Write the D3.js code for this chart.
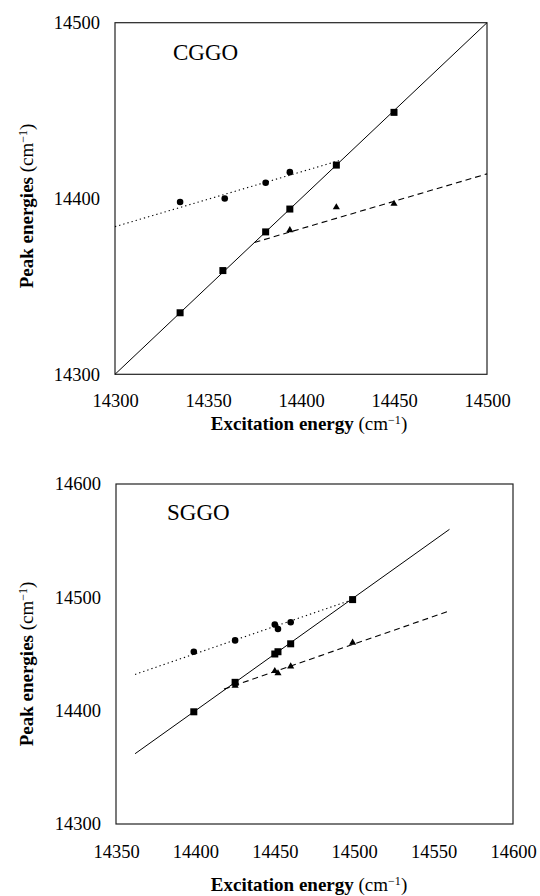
<!DOCTYPE html>
<html>
<head>
<meta charset="utf-8">
<script src="https://cdn.jsdelivr.net/npm/d3@7"></script>
<style>
  body { margin: 0; background: #fff; }
  svg { display: block; }
  text { font-family: "Liberation Serif", "Times New Roman", serif; fill: #000; }
</style>
</head>
<body>
<svg width="540" height="896"></svg>
<script>
// CGGO panel
var cggoSquareX = [14335, 14358, 14381, 14394, 14419, 14450];
var cggoSquareY = [14335, 14359, 14381, 14394, 14419, 14449];
var cggoCircleX = [14335, 14359, 14381, 14394];
var cggoCircleY = [14398, 14400, 14409, 14415];
var cggoTriangleX = [14394, 14419, 14450];
var cggoTriangleY = [14382, 14395, 14397];
var cggoSolid = [[14300, 14300], [14500, 14500]];
var cggoDotted = [[14300, 14384], [14422, 14422]];
var cggoDashed = [[14375, 14375], [14500, 14414]];
var cggoXTicks = [14300, 14350, 14400, 14450, 14500];
var cggoYTicks = [14300, 14400, 14500];

// SGGO panel
var sggoSquareX = [14399, 14425, 14450, 14452, 14460, 14499];
var sggoSquareY = [14399, 14425, 14450, 14452, 14459, 14498];
var sggoCircleX = [14399, 14425, 14450, 14452, 14460];
var sggoCircleY = [14452, 14462, 14476, 14472, 14478];
var sggoTriangleX = [14425, 14450, 14452, 14460, 14499];
var sggoTriangleY = [14422, 14435, 14433, 14439, 14460];
var sggoSolid = [[14362, 14362], [14560, 14560]];
var sggoDotted = [[14362, 14432], [14499, 14498]];
var sggoDashed = [[14418, 14419], [14560, 14488]];
var sggoXTicks = [14350, 14400, 14450, 14500, 14550, 14600];
var sggoYTicks = [14300, 14400, 14500, 14600];

var serif = '"Liberation Serif", "Times New Roman", serif';
var svg = d3.select("svg");

function zip(xs, ys) {
    return xs.map((x, i) => [x, ys[i]]);
}

function drawPanel(p) {
    var x = d3.scaleLinear().domain(p.xDomain).range([p.left, p.right]);
    var y = d3.scaleLinear().domain(p.yDomain).range([p.bottom, p.top]);
    var g = svg.append("g");

    // axes: labels only, no tick marks
    var ax = g.append("g")
        .attr("transform", "translate(0," + p.bottom + ")")
        .call(d3.axisBottom(x).tickValues(p.xTicks).tickSize(0).tickPadding(p.xPad).tickFormat(d3.format("d")));
    var ay = g.append("g")
        .attr("transform", "translate(" + p.left + ",0)")
        .call(d3.axisLeft(y).tickValues(p.yTicks).tickSize(0).tickPadding(15).tickFormat(d3.format("d")));
    [ax, ay].forEach(a => {
        a.attr("font-family", serif).attr("font-size", 18.5);
        a.select(".domain").remove();
        a.selectAll("text").attr("fill", "#000");
    });

    // frame
    g.append("rect")
        .attr("x", p.left).attr("y", p.top)
        .attr("width", p.right - p.left).attr("height", p.bottom - p.top)
        .attr("fill", "none").attr("stroke", "#222").attr("stroke-width", 1.2);

    var line = d3.line().x(d => x(d[0])).y(d => y(d[1]));
    g.append("path").datum(p.solid).attr("d", line)
        .attr("fill", "none").attr("stroke", "#000").attr("stroke-width", 1);
    g.append("path").datum(p.dotted).attr("d", line)
        .attr("fill", "none").attr("stroke", "#000").attr("stroke-width", 1.1)
        .attr("stroke-dasharray", "1.3,3");
    g.append("path").datum(p.dashed).attr("d", line)
        .attr("fill", "none").attr("stroke", "#000").attr("stroke-width", 1.1)
        .attr("stroke-dasharray", "6,4");

    g.selectAll(".sq").data(p.squares).enter().append("rect")
        .attr("x", d => x(d[0]) - 3.5).attr("y", d => y(d[1]) - 3.5)
        .attr("width", 7).attr("height", 7).attr("fill", "#000");
    g.selectAll(".ci").data(p.circles).enter().append("circle")
        .attr("cx", d => x(d[0])).attr("cy", d => y(d[1]))
        .attr("r", 3.3).attr("fill", "#000");
    var tri = d3.symbol().type(d3.symbolTriangle).size(22);
    g.selectAll(".tr").data(p.triangles).enter().append("path")
        .attr("d", tri)
        .attr("transform", d => "translate(" + x(d[0]) + "," + y(d[1]) + ")")
        .attr("fill", "#000");

    // panel name
    g.append("text").attr("x", p.nameX).attr("y", p.nameY)
        .style("font-size", "23px").text(p.name);

    // axis titles
    var xt = g.append("text").attr("x", p.xTitleX).attr("y", p.xTitleY)
        .attr("text-anchor", "middle").style("font-size", "19px");
    xt.append("tspan").style("font-weight", "bold").text("Excitation energy ");
    xt.append("tspan").text("(cm");
    xt.append("tspan").attr("dy", -6).style("font-size", "12px").text("\u22121");
    xt.append("tspan").attr("dy", 6).text(")");

    var yt = g.append("text")
        .attr("transform", "translate(33," + p.yTitleY + ") rotate(-90)")
        .attr("text-anchor", "middle").style("font-size", "19px");
    yt.append("tspan").style("font-weight", "bold").text("Peak energies ");
    yt.append("tspan").text("(cm");
    yt.append("tspan").attr("dy", -6).style("font-size", "12px").text("\u22121");
    yt.append("tspan").attr("dy", 6).text(")");
}

drawPanel({
    name: "CGGO", nameX: 173, nameY: 60,
    left: 115, right: 487, top: 22.7, bottom: 374.3,
    xDomain: [14300, 14500], yDomain: [14300, 14500],
    xTicks: cggoXTicks, yTicks: cggoYTicks, xPad: 20,
    squares: zip(cggoSquareX, cggoSquareY),
    circles: zip(cggoCircleX, cggoCircleY),
    triangles: zip(cggoTriangleX, cggoTriangleY),
    solid: cggoSolid, dotted: cggoDotted, dashed: cggoDashed,
    xTitleX: 309, xTitleY: 430, yTitleY: 206
});

drawPanel({
    name: "SGGO", nameX: 167, nameY: 520,
    left: 116, right: 513, top: 484, bottom: 824,
    xDomain: [14350, 14600], yDomain: [14300, 14600],
    xTicks: sggoXTicks, yTicks: sggoYTicks, xPad: 21,
    squares: zip(sggoSquareX, sggoSquareY),
    circles: zip(sggoCircleX, sggoCircleY),
    triangles: zip(sggoTriangleX, sggoTriangleY),
    solid: sggoSolid, dotted: sggoDotted, dashed: sggoDashed,
    xTitleX: 309, xTitleY: 891, yTitleY: 664
});
</script>
</body>
</html>
